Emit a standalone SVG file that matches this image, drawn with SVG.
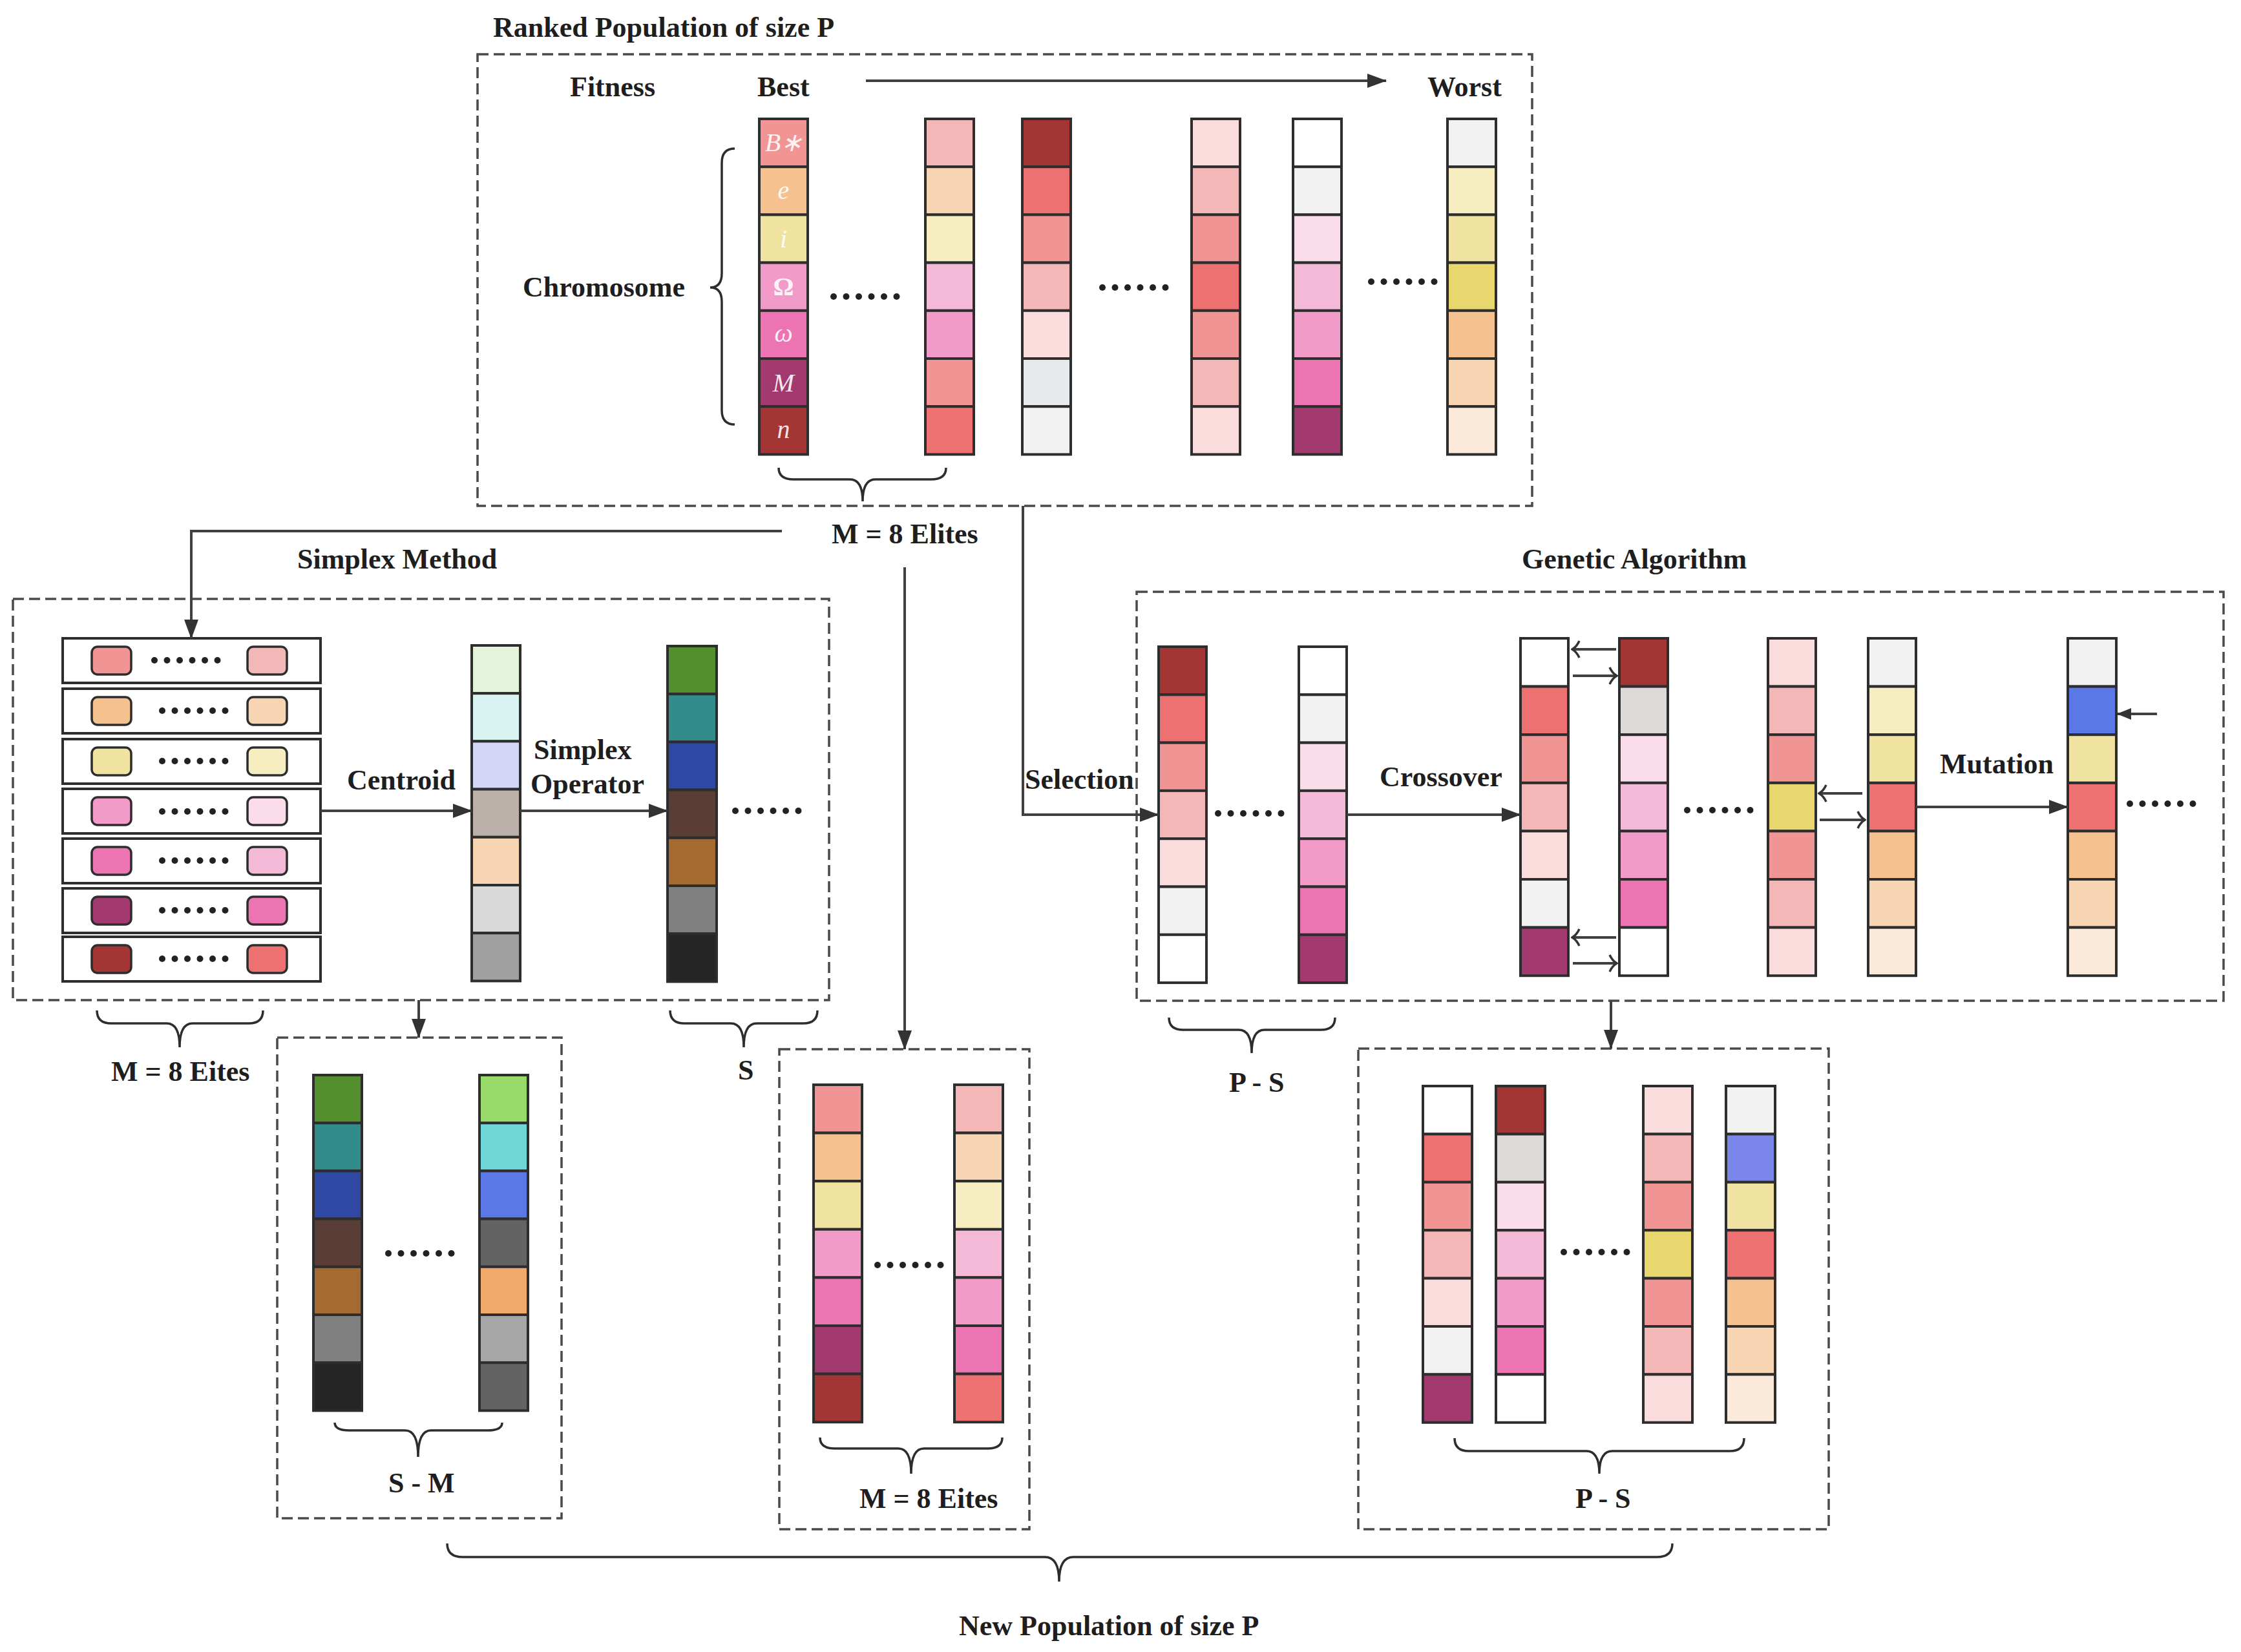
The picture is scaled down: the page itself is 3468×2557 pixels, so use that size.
<svg xmlns="http://www.w3.org/2000/svg" xmlns:xlink="http://www.w3.org/1999/xlink" width="3468" height="2557" viewBox="0 0 3468 2557">
<style>
.t{font-family:"Liberation Serif","Times New Roman",serif;font-weight:bold;font-size:44px;fill:#1e1e1e}
.lab{font-family:"Liberation Serif","Times New Roman",serif;font-style:italic;font-size:40px;fill:#ffffff;fill-opacity:0.9;text-anchor:middle}
.up{font-style:normal;font-weight:bold}
.db{fill:none;stroke:#4a4a4a;stroke-width:3.5;stroke-dasharray:17 8}
.c{stroke:#2d2d2d;stroke-width:4}
.rw{fill:#fff;stroke:#2d2d2d;stroke-width:4}
.sq{stroke:#2d2d2d;stroke-width:3.5}
.ln{fill:none;stroke:#404040;stroke-width:4}
.sw{fill:none;stroke:#404040;stroke-width:4}
.br{fill:none;stroke:#2d2d2d;stroke-width:3.5}
.r1{fill:#A33535}.r2{fill:#EC7170}.r3{fill:#F09494}.r4{fill:#F4B7B7}.r5{fill:#F9DCDB}
.gy{fill:#F1F1F1}.wh{fill:#FFFFFF}.p1{fill:#FADCEA}.p2{fill:#F5B9D8}.p3{fill:#F29AC8}.p4{fill:#EC74B2}.pl{fill:#A33A6F}
.or{fill:#F5C18E}.pe{fill:#F7D5B3}.cr{fill:#FBEADA}.ye{fill:#F0E2A0}.ly{fill:#F6EEC0}.mu{fill:#E8D66E}
.bg{fill:#E6EAED}.tg{fill:#DDD9D6}.g1{fill:#E3F4DA}.c1{fill:#D9F3F3}.lv{fill:#D3D7F5}.ta{fill:#BCB0AA}.lg{fill:#D9D9D9}.mg{fill:#A0A0A0}
.dg{fill:#548F2E}.tl{fill:#338C8C}.bl{fill:#2F48A3}.bn{fill:#5A3E36}.bo{fill:#A56A30}.gr{fill:#808080}.bk{fill:#252525}
.lgn{fill:#98DB6B}.cy{fill:#70D6D6}.mb{fill:#5A78E6}.dgy{fill:#636363}.ora{fill:#F2AA6A}.lgy{fill:#A6A6A6}.vb{fill:#7B86EA}
</style>
<defs>
<marker id="ah" markerUnits="userSpaceOnUse" markerWidth="30" markerHeight="22" refX="29" refY="11" orient="auto"><path d="M0,0 L30,11 L0,22 Z" fill="#333"/></marker>
<marker id="ahs" markerUnits="userSpaceOnUse" markerWidth="22" markerHeight="18" refX="21" refY="9" orient="auto"><path d="M0,0 L22,9 L0,18 Z" fill="#333"/></marker>
<marker id="oa" markerUnits="userSpaceOnUse" markerWidth="16" markerHeight="28" refX="14" refY="14" orient="auto"><path d="M3,1 Q7,10 14,14 Q7,18 3,27" fill="none" stroke="#333" stroke-width="3.5"/></marker>
<g id="dots" fill="#222"><circle cx="0" cy="0" r="5"/><circle cx="19.5" cy="0" r="5"/><circle cx="39" cy="0" r="5"/><circle cx="58.5" cy="0" r="5"/><circle cx="78" cy="0" r="5"/><circle cx="97.5" cy="0" r="5"/></g>
</defs>
<rect width="3468" height="2557" fill="#ffffff"/>

<!-- containers -->
<g id="ranked-population">
<rect class="db" x="739" y="84" width="1632" height="699"/>
<text class="t" x="763" y="57">Ranked Population of size P</text>
<text class="t" x="882" y="149">Fitness</text>
<text class="t" x="1172" y="149">Best</text>
<text class="t" x="2209" y="149">Worst</text>
<text class="t" x="809" y="459">Chromosome</text>
<path class="br" d="M1137,230 Q1117,230 1117,252 L1117,423 Q1117,445 1099,445 Q1117,445 1117,467 L1117,635 Q1117,657 1137,657"/>
<path class="br" d="M1205,724 Q1205,742 1228,742 L1315,742 Q1335,742 1335,776 Q1335,742 1355,742 L1441,742 Q1464,742 1464,724"/>
<text class="t" x="1287" y="841">M = 8 Elites</text>
<use xlink:href="#dots" x="1290" y="459"/>
<use xlink:href="#dots" x="1706" y="445"/>
<use xlink:href="#dots" x="2122" y="436"/>
</g>

<g id="top-c1" transform="translate(1175,184)">
<rect class="c r3" y="0" width="75" height="74.2"/><rect class="c or" y="74.2" width="75" height="74.2"/><rect class="c ye" y="148.4" width="75" height="74.2"/><rect class="c p3" y="222.6" width="75" height="74.2"/><rect class="c p4" y="296.8" width="75" height="74.2"/><rect class="c pl" y="371" width="75" height="74.2"/><rect class="c r1" y="445.2" width="75" height="74.2"/>
<text class="lab" x="38" y="50">B∗</text><text class="lab" x="37.5" y="124">e</text><text class="lab" x="37.5" y="199">i</text><text class="lab up" x="37.5" y="273">Ω</text><text class="lab" x="37.5" y="345">ω</text><text class="lab" x="37.5" y="422">M</text><text class="lab" x="37.5" y="494">n</text>
</g>
<g id="top-c2" transform="translate(1432,184)">
<rect class="c r4" y="0" width="75" height="74.2"/><rect class="c pe" y="74.2" width="75" height="74.2"/><rect class="c ly" y="148.4" width="75" height="74.2"/><rect class="c p2" y="222.6" width="75" height="74.2"/><rect class="c p3" y="296.8" width="75" height="74.2"/><rect class="c r3" y="371" width="75" height="74.2"/><rect class="c r2" y="445.2" width="75" height="74.2"/>
</g>
<g id="top-c3" transform="translate(1582,184)">
<rect class="c r1" y="0" width="75" height="74.2"/><rect class="c r2" y="74.2" width="75" height="74.2"/><rect class="c r3" y="148.4" width="75" height="74.2"/><rect class="c r4" y="222.6" width="75" height="74.2"/><rect class="c r5" y="296.8" width="75" height="74.2"/><rect class="c bg" y="371" width="75" height="74.2"/><rect class="c gy" y="445.2" width="75" height="74.2"/>
</g>
<g id="top-c4" transform="translate(1844,184)">
<rect class="c r5" y="0" width="75" height="74.2"/><rect class="c r4" y="74.2" width="75" height="74.2"/><rect class="c r3" y="148.4" width="75" height="74.2"/><rect class="c r2" y="222.6" width="75" height="74.2"/><rect class="c r3" y="296.8" width="75" height="74.2"/><rect class="c r4" y="371" width="75" height="74.2"/><rect class="c r5" y="445.2" width="75" height="74.2"/>
</g>
<g id="top-c5" transform="translate(2001,184)">
<rect class="c wh" y="0" width="75" height="74.2"/><rect class="c gy" y="74.2" width="75" height="74.2"/><rect class="c p1" y="148.4" width="75" height="74.2"/><rect class="c p2" y="222.6" width="75" height="74.2"/><rect class="c p3" y="296.8" width="75" height="74.2"/><rect class="c p4" y="371" width="75" height="74.2"/><rect class="c pl" y="445.2" width="75" height="74.2"/>
</g>
<g id="top-c6" transform="translate(2240,184)">
<rect class="c gy" y="0" width="75" height="74.2"/><rect class="c ly" y="74.2" width="75" height="74.2"/><rect class="c ye" y="148.4" width="75" height="74.2"/><rect class="c mu" y="222.6" width="75" height="74.2"/><rect class="c or" y="296.8" width="75" height="74.2"/><rect class="c pe" y="371" width="75" height="74.2"/><rect class="c cr" y="445.2" width="75" height="74.2"/>
</g>

<!-- Simplex method -->
<g id="simplex-method">
<rect class="db" x="20" y="927" width="1263" height="621"/>
<text class="t" x="460" y="880">Simplex Method</text>
<text class="t" x="537" y="1222">Centroid</text>
<text class="t" x="826" y="1175">Simplex</text>
<text class="t" x="821" y="1228">Operator</text>
<use xlink:href="#dots" x="1138" y="1255"/>
<path class="br" d="M150,1564 Q150,1584 172,1584 L258,1584 Q278,1584 278,1621 Q278,1584 298,1584 L385,1584 Q407,1584 407,1564"/>
<text class="t" x="172" y="1673">M = 8 Eites</text>
<path class="br" d="M1037,1564 Q1037,1584 1059,1584 L1131,1584 Q1151,1584 1151,1621 Q1151,1584 1171,1584 L1243,1584 Q1265,1584 1265,1564"/>
<text class="t" x="1142" y="1671">S</text>
</g>
<g id="simplex-rows">
<g id="row1"><rect class="rw" x="97" y="988" width="399" height="69"/><rect class="sq r3" x="142" y="1001" width="61" height="43" rx="9"/><rect class="sq r4" x="383" y="1001" width="61" height="43" rx="9"/><use xlink:href="#dots" x="239" y="1022"/></g>
<g id="row2"><rect class="rw" x="97" y="1066" width="399" height="69"/><rect class="sq or" x="142" y="1079" width="61" height="43" rx="9"/><rect class="sq pe" x="383" y="1079" width="61" height="43" rx="9"/><use xlink:href="#dots" x="251" y="1100"/></g>
<g id="row3"><rect class="rw" x="97" y="1144" width="399" height="69"/><rect class="sq ye" x="142" y="1157" width="61" height="43" rx="9"/><rect class="sq ly" x="383" y="1157" width="61" height="43" rx="9"/><use xlink:href="#dots" x="251" y="1178"/></g>
<g id="row4"><rect class="rw" x="97" y="1221" width="399" height="69"/><rect class="sq p3" x="142" y="1234" width="61" height="43" rx="9"/><rect class="sq p1" x="383" y="1234" width="61" height="43" rx="9"/><use xlink:href="#dots" x="251" y="1256"/></g>
<g id="row5"><rect class="rw" x="97" y="1298" width="399" height="69"/><rect class="sq p4" x="142" y="1311" width="61" height="43" rx="9"/><rect class="sq p2" x="383" y="1311" width="61" height="43" rx="9"/><use xlink:href="#dots" x="251" y="1332"/></g>
<g id="row6"><rect class="rw" x="97" y="1375" width="399" height="69"/><rect class="sq pl" x="142" y="1388" width="61" height="43" rx="9"/><rect class="sq p4" x="383" y="1388" width="61" height="43" rx="9"/><use xlink:href="#dots" x="251" y="1409"/></g>
<g id="row7"><rect class="rw" x="97" y="1450" width="399" height="69"/><rect class="sq r1" x="142" y="1463" width="61" height="43" rx="9"/><rect class="sq r2" x="383" y="1463" width="61" height="43" rx="9"/><use xlink:href="#dots" x="251" y="1484"/></g>
</g>
<g id="centroid-col" transform="translate(730,999)">
<rect class="c g1" y="0" width="75" height="74.2"/><rect class="c c1" y="74.2" width="75" height="74.2"/><rect class="c lv" y="148.4" width="75" height="74.2"/><rect class="c ta" y="222.6" width="75" height="74.2"/><rect class="c pe" y="296.8" width="75" height="74.2"/><rect class="c lg" y="371" width="75" height="74.2"/><rect class="c mg" y="445.2" width="75" height="74.2"/>
</g>
<g id="simplex-col" transform="translate(1033,1000)">
<rect class="c dg" y="0" width="76" height="74.2"/><rect class="c tl" y="74.2" width="76" height="74.2"/><rect class="c bl" y="148.4" width="76" height="74.2"/><rect class="c bn" y="222.6" width="76" height="74.2"/><rect class="c bo" y="296.8" width="76" height="74.2"/><rect class="c gr" y="371" width="76" height="74.2"/><rect class="c bk" y="445.2" width="76" height="74.2"/>
</g>

<!-- S - M box -->
<g id="s-minus-m">
<rect class="db" x="429" y="1606" width="440" height="744"/>
<use xlink:href="#dots" x="601" y="1940"/>
<path class="br" d="M518,2202 Q518,2214 540,2214 L627,2214 Q647,2214 647,2255 Q647,2214 667,2214 L755,2214 Q777,2214 777,2202"/>
<text class="t" x="601" y="2310">S - M</text>
</g>
<g id="sm-c1" transform="translate(485,1664)">
<rect class="c dg" y="0" width="75" height="74.2"/><rect class="c tl" y="74.2" width="75" height="74.2"/><rect class="c bl" y="148.4" width="75" height="74.2"/><rect class="c bn" y="222.6" width="75" height="74.2"/><rect class="c bo" y="296.8" width="75" height="74.2"/><rect class="c gr" y="371" width="75" height="74.2"/><rect class="c bk" y="445.2" width="75" height="74.2"/>
</g>
<g id="sm-c2" transform="translate(742,1664)">
<rect class="c lgn" y="0" width="75" height="74.2"/><rect class="c cy" y="74.2" width="75" height="74.2"/><rect class="c mb" y="148.4" width="75" height="74.2"/><rect class="c dgy" y="222.6" width="75" height="74.2"/><rect class="c ora" y="296.8" width="75" height="74.2"/><rect class="c lgy" y="371" width="75" height="74.2"/><rect class="c dgy" y="445.2" width="75" height="74.2"/>
</g>

<!-- Elites box -->
<g id="elites">
<rect class="db" x="1206" y="1624" width="387" height="743"/>
<use xlink:href="#dots" x="1358" y="1958"/>
<path class="br" d="M1269,2225 Q1269,2242 1291,2242 L1390,2242 Q1410,2242 1410,2281 Q1410,2242 1430,2242 L1529,2242 Q1551,2242 1551,2225"/>
<text class="t" x="1330" y="2334">M = 8 Eites</text>
</g>
<g id="el-c1" transform="translate(1259,1679)">
<rect class="c r3" y="0" width="75" height="74.6"/><rect class="c or" y="74.6" width="75" height="74.6"/><rect class="c ye" y="149.2" width="75" height="74.6"/><rect class="c p3" y="223.8" width="75" height="74.6"/><rect class="c p4" y="298.4" width="75" height="74.6"/><rect class="c pl" y="373" width="75" height="74.6"/><rect class="c r1" y="447.6" width="75" height="74.6"/>
</g>
<g id="el-c2" transform="translate(1477,1679)">
<rect class="c r4" y="0" width="75" height="74.6"/><rect class="c pe" y="74.6" width="75" height="74.6"/><rect class="c ly" y="149.2" width="75" height="74.6"/><rect class="c p2" y="223.8" width="75" height="74.6"/><rect class="c p3" y="298.4" width="75" height="74.6"/><rect class="c p4" y="373" width="75" height="74.6"/><rect class="c r2" y="447.6" width="75" height="74.6"/>
</g>

<!-- Genetic Algorithm -->
<g id="genetic-algorithm">
<rect class="db" x="1759" y="916" width="1682" height="633"/>
<text class="t" x="2355" y="880">Genetic Algorithm</text>
<text class="t" x="1586" y="1221">Selection</text>
<text class="t" x="2135" y="1217">Crossover</text>
<text class="t" x="3002" y="1197">Mutation</text>
<use xlink:href="#dots" x="1885" y="1259"/>
<use xlink:href="#dots" x="2611" y="1254"/>
<use xlink:href="#dots" x="3296" y="1244"/>
<path class="br" d="M1809,1575 Q1809,1594 1831,1594 L1917,1594 Q1937,1594 1937,1630 Q1937,1594 1957,1594 L2044,1594 Q2066,1594 2066,1575"/>
<text class="t" x="1902" y="1690">P - S</text>
</g>
<g id="ga-c1" transform="translate(1793,1001)">
<rect class="c r1" y="0" width="74" height="74.3"/><rect class="c r2" y="74.3" width="74" height="74.3"/><rect class="c r3" y="148.6" width="74" height="74.3"/><rect class="c r4" y="222.9" width="74" height="74.3"/><rect class="c r5" y="297.2" width="74" height="74.3"/><rect class="c gy" y="371.5" width="74" height="74.3"/><rect class="c wh" y="445.8" width="74" height="74.3"/>
</g>
<g id="ga-c2" transform="translate(2010,1001)">
<rect class="c wh" y="0" width="74" height="74.3"/><rect class="c gy" y="74.3" width="74" height="74.3"/><rect class="c p1" y="148.6" width="74" height="74.3"/><rect class="c p2" y="222.9" width="74" height="74.3"/><rect class="c p3" y="297.2" width="74" height="74.3"/><rect class="c p4" y="371.5" width="74" height="74.3"/><rect class="c pl" y="445.8" width="74" height="74.3"/>
</g>
<g id="ga-c3" transform="translate(2353,988)">
<rect class="c wh" y="0" width="74" height="74.6"/><rect class="c r2" y="74.6" width="74" height="74.6"/><rect class="c r3" y="149.2" width="74" height="74.6"/><rect class="c r4" y="223.8" width="74" height="74.6"/><rect class="c r5" y="298.4" width="74" height="74.6"/><rect class="c gy" y="373" width="74" height="74.6"/><rect class="c pl" y="447.6" width="74" height="74.6"/>
</g>
<g id="ga-c4" transform="translate(2506,988)">
<rect class="c r1" y="0" width="75" height="74.6"/><rect class="c tg" y="74.6" width="75" height="74.6"/><rect class="c p1" y="149.2" width="75" height="74.6"/><rect class="c p2" y="223.8" width="75" height="74.6"/><rect class="c p3" y="298.4" width="75" height="74.6"/><rect class="c p4" y="373" width="75" height="74.6"/><rect class="c wh" y="447.6" width="75" height="74.6"/>
</g>
<g id="ga-c5" transform="translate(2736,988)">
<rect class="c r5" y="0" width="74" height="74.6"/><rect class="c r4" y="74.6" width="74" height="74.6"/><rect class="c r3" y="149.2" width="74" height="74.6"/><rect class="c mu" y="223.8" width="74" height="74.6"/><rect class="c r3" y="298.4" width="74" height="74.6"/><rect class="c r4" y="373" width="74" height="74.6"/><rect class="c r5" y="447.6" width="74" height="74.6"/>
</g>
<g id="ga-c6" transform="translate(2891,988)">
<rect class="c gy" y="0" width="74" height="74.6"/><rect class="c ly" y="74.6" width="74" height="74.6"/><rect class="c ye" y="149.2" width="74" height="74.6"/><rect class="c r2" y="223.8" width="74" height="74.6"/><rect class="c or" y="298.4" width="74" height="74.6"/><rect class="c pe" y="373" width="74" height="74.6"/><rect class="c cr" y="447.6" width="74" height="74.6"/>
</g>
<g id="ga-c7" transform="translate(3200,988)">
<rect class="c gy" y="0" width="75" height="74.6"/><rect class="c mb" y="74.6" width="75" height="74.6"/><rect class="c ye" y="149.2" width="75" height="74.6"/><rect class="c r2" y="223.8" width="75" height="74.6"/><rect class="c or" y="298.4" width="75" height="74.6"/><rect class="c pe" y="373" width="75" height="74.6"/><rect class="c cr" y="447.6" width="75" height="74.6"/>
</g>

<!-- P - S box -->
<g id="p-minus-s">
<rect class="db" x="2102" y="1623" width="728" height="744"/>
<use xlink:href="#dots" x="2420" y="1938"/>
<path class="br" d="M2251,2226 Q2251,2246 2273,2246 L2455,2246 Q2475,2246 2475,2281 Q2475,2246 2495,2246 L2677,2246 Q2699,2246 2699,2226"/>
<text class="t" x="2438" y="2334">P - S</text>
</g>
<g id="ps-c1" transform="translate(2202,1681)">
<rect class="c wh" y="0" width="76" height="74.4"/><rect class="c r2" y="74.4" width="76" height="74.4"/><rect class="c r3" y="148.8" width="76" height="74.4"/><rect class="c r4" y="223.2" width="76" height="74.4"/><rect class="c r5" y="297.6" width="76" height="74.4"/><rect class="c gy" y="372" width="76" height="74.4"/><rect class="c pl" y="446.4" width="76" height="74.4"/>
</g>
<g id="ps-c2" transform="translate(2315,1681)">
<rect class="c r1" y="0" width="76" height="74.4"/><rect class="c tg" y="74.4" width="76" height="74.4"/><rect class="c p1" y="148.8" width="76" height="74.4"/><rect class="c p2" y="223.2" width="76" height="74.4"/><rect class="c p3" y="297.6" width="76" height="74.4"/><rect class="c p4" y="372" width="76" height="74.4"/><rect class="c wh" y="446.4" width="76" height="74.4"/>
</g>
<g id="ps-c3" transform="translate(2543,1681)">
<rect class="c r5" y="0" width="76" height="74.4"/><rect class="c r4" y="74.4" width="76" height="74.4"/><rect class="c r3" y="148.8" width="76" height="74.4"/><rect class="c mu" y="223.2" width="76" height="74.4"/><rect class="c r3" y="297.6" width="76" height="74.4"/><rect class="c r4" y="372" width="76" height="74.4"/><rect class="c r5" y="446.4" width="76" height="74.4"/>
</g>
<g id="ps-c4" transform="translate(2671,1681)">
<rect class="c gy" y="0" width="76" height="74.4"/><rect class="c vb" y="74.4" width="76" height="74.4"/><rect class="c ye" y="148.8" width="76" height="74.4"/><rect class="c r2" y="223.2" width="76" height="74.4"/><rect class="c or" y="297.6" width="76" height="74.4"/><rect class="c pe" y="372" width="76" height="74.4"/><rect class="c cr" y="446.4" width="76" height="74.4"/>
</g>

<!-- new population -->
<g id="new-population">
<path class="br" d="M692,2389 Q692,2410 716,2410 L1617,2410 Q1639,2410 1639,2448 Q1639,2410 1661,2410 L2564,2410 Q2588,2410 2588,2389"/>
<text class="t" x="1484" y="2531">New Population of size P</text>
</g>

<!-- connectors -->
<g id="connectors">
<line class="ln" x1="1340" y1="125" x2="2145" y2="125" marker-end="url(#ah)"/>
<polyline class="ln" points="1210,822 296,822 296,988" marker-end="url(#ah)"/>
<line class="ln" x1="1400" y1="878" x2="1400" y2="1624" marker-end="url(#ah)"/>
<polyline class="ln" points="1583,783 1583,1261 1793,1261" marker-end="url(#ah)"/>
<line class="ln" x1="496" y1="1255" x2="730" y2="1255" marker-end="url(#ah)"/>
<line class="ln" x1="805" y1="1255" x2="1033" y2="1255" marker-end="url(#ah)"/>
<line class="ln" x1="648" y1="1548" x2="648" y2="1606" marker-end="url(#ah)"/>
<line class="ln" x1="2084" y1="1261" x2="2353" y2="1261" marker-end="url(#ah)"/>
<line class="ln" x1="2965" y1="1249" x2="3200" y2="1249" marker-end="url(#ah)"/>
<line class="ln" x1="2493" y1="1549" x2="2493" y2="1623" marker-end="url(#ah)"/>
<line class="sw" x1="2501" y1="1005" x2="2433" y2="1005" marker-end="url(#oa)"/>
<line class="sw" x1="2434" y1="1046" x2="2502" y2="1046" marker-end="url(#oa)"/>
<line class="sw" x1="2501" y1="1451" x2="2433" y2="1451" marker-end="url(#oa)"/>
<line class="sw" x1="2434" y1="1491" x2="2502" y2="1491" marker-end="url(#oa)"/>
<line class="sw" x1="2882" y1="1228" x2="2815" y2="1228" marker-end="url(#oa)"/>
<line class="sw" x1="2816" y1="1269" x2="2886" y2="1269" marker-end="url(#oa)"/>
<line class="ln" x1="3338" y1="1105" x2="3277" y2="1105" marker-end="url(#ahs)"/>
</g>
</svg>
